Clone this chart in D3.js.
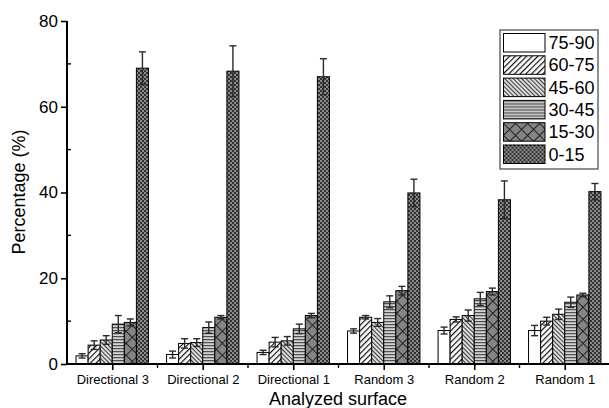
<!DOCTYPE html>
<html>
<head>
<meta charset="utf-8">
<script src="https://cdn.jsdelivr.net/npm/d3@7"></script>
<style>
  html, body { margin: 0; padding: 0; background: #fff; }
  svg { display: block; }
  text { font-family: "Liberation Sans", Arial, sans-serif; fill: #000; }
</style>
</head>
<body>
<svg id="chart" width="609" height="408"></svg>
<script>
// Surfaces analysed (one bar group each)
const categories = ["Directional 3", "Directional 2", "Directional 1", "Random 3", "Random 2", "Random 1"];
// Angle classes (legend order)
const seriesNames = ["75-90", "60-75", "45-60", "30-45", "15-30", "0-15"];

// Mean percentage per angle class, in category order
const v7590 = [1.9, 2.2, 2.7, 7.7, 7.8, 7.8];
const v6075 = [4.4, 4.8, 5.1, 10.9, 10.4, 10.0];
const v4560 = [5.6, 5.0, 5.4, 9.7, 11.3, 11.6];
const v3045 = [9.3, 8.5, 8.2, 14.5, 15.2, 14.4];
const v1530 = [9.7, 10.9, 11.3, 17.1, 16.9, 16.1];
const v0015 = [69.0, 68.3, 67.0, 39.9, 38.3, 40.2];

// Standard deviations, same layout
const e7590 = [0.5, 0.8, 0.5, 0.5, 0.8, 1.2];
const e6075 = [1.0, 1.1, 1.1, 0.4, 0.6, 0.9];
const e4560 = [1.0, 0.9, 1.0, 0.9, 1.3, 1.2];
const e3045 = [2.0, 1.3, 1.1, 1.4, 1.5, 1.2];
const e1530 = [0.8, 0.4, 0.5, 1.0, 0.8, 0.4];
const e0015 = [3.8, 5.9, 4.2, 3.2, 4.4, 1.9];

const yTicks = [0, 20, 40, 60, 80];
const yMinorTicks = [10, 30, 50, 70];

const values = [v7590, v6075, v4560, v3045, v1530, v0015];
const errors = [e7590, e6075, e4560, e3045, e1530, e0015];

const svg = d3.select("#chart");

// ---- fill patterns ----
const defs = svg.append("defs");

function pat(id, w, h, rot) {
  const p = defs.append("pattern")
    .attr("id", id).attr("patternUnits", "userSpaceOnUse")
    .attr("width", w).attr("height", h);
  if (rot) p.attr("patternTransform", `rotate(${rot})`);
  return p;
}

// 75-90: plain white
pat("p0", 4, 4).append("rect").attr("width", 4).attr("height", 4).attr("fill", "#fff");

// 60-75: forward diagonal hatch
{
  const p = pat("p1", 4, 4, 45);
  p.append("rect").attr("width", 4).attr("height", 4).attr("fill", "#fff");
  p.append("line").attr("x1", 0.6).attr("y1", 0).attr("x2", 0.6).attr("y2", 4)
    .attr("stroke", "#111").attr("stroke-width", 1.2);
}
// 45-60: dense back diagonal hatch on light grey
{
  const p = pat("p2", 3, 3, -45);
  p.append("rect").attr("width", 3).attr("height", 3).attr("fill", "#dcdcdc");
  p.append("line").attr("x1", 0.5).attr("y1", 0).attr("x2", 0.5).attr("y2", 3)
    .attr("stroke", "#3a3a3a").attr("stroke-width", 1);
}
// 30-45: horizontal stripes
{
  const p = pat("p3", 4, 3);
  p.append("rect").attr("width", 4).attr("height", 3).attr("fill", "#d4d4d4");
  p.append("line").attr("x1", 0).attr("y1", 0.6).attr("x2", 4).attr("y2", 0.6)
    .attr("stroke", "#505050").attr("stroke-width", 1.3);
}
// 15-30: wide diagonal crosshatch on mid grey
{
  const p = pat("p4", 8.5, 8.5, 45);
  p.append("rect").attr("width", 8.5).attr("height", 8.5).attr("fill", "#858585");
  p.append("line").attr("x1", 0.5).attr("y1", 0).attr("x2", 0.5).attr("y2", 8.5)
    .attr("stroke", "#222").attr("stroke-width", 1);
  p.append("line").attr("x1", 0).attr("y1", 0.5).attr("x2", 8.5).attr("y2", 0.5)
    .attr("stroke", "#222").attr("stroke-width", 1);
}
// 0-15: fine dark checker
{
  const p = pat("p5", 4, 4);
  p.append("rect").attr("width", 4).attr("height", 4).attr("fill", "#333");
  p.append("rect").attr("x", 0).attr("y", 0).attr("width", 2).attr("height", 2).attr("fill", "#8a8a8a");
  p.append("rect").attr("x", 2).attr("y", 2).attr("width", 2).attr("height", 2).attr("fill", "#8a8a8a");
}
const fills = ["url(#p0)", "url(#p1)", "url(#p2)", "url(#p3)", "url(#p4)", "url(#p5)"];

// ---- scales ----
const x = d3.scaleLinear().domain([0.5, 6.5]).range([67, 610]);
const y = d3.scaleLinear().domain([0, 80]).range([364, 21]);
const step = x(2) - x(1);
const inner = d3.scaleBand().domain(seriesNames).range([-step * 0.4, step * 0.4]).padding(0);

// ---- bars ----
const bars = svg.append("g");
seriesNames.forEach((s, si) => {
  bars.selectAll(null).data(categories).enter().append("rect")
    .attr("x", (c, ci) => x(ci + 1) + inner(s))
    .attr("y", (c, ci) => y(values[si][ci]))
    .attr("width", inner.bandwidth())
    .attr("height", (c, ci) => y(0) - y(values[si][ci]))
    .attr("fill", fills[si])
    .attr("stroke", "#000").attr("stroke-width", 1);
});

// ---- error bars ----
const eb = svg.append("g").attr("stroke", "#2a2a2a").attr("stroke-width", 1.4).attr("fill", "none");
seriesNames.forEach((s, si) => {
  categories.forEach((c, ci) => {
    const cx = x(ci + 1) + inner(s) + inner.bandwidth() / 2;
    const v = values[si][ci], e = errors[si][ci];
    const cw = 3.5;
    eb.append("line").attr("x1", cx).attr("x2", cx).attr("y1", y(v - e)).attr("y2", y(v + e));
    eb.append("line").attr("x1", cx - cw).attr("x2", cx + cw).attr("y1", y(v + e)).attr("y2", y(v + e));
    eb.append("line").attr("x1", cx - cw).attr("x2", cx + cw).attr("y1", y(v - e)).attr("y2", y(v - e));
  });
});

// ---- y axis ----
const yAxis = svg.append("g").attr("transform", `translate(${x(0.5)},0)`)
  .call(d3.axisLeft(y).tickValues(yTicks).tickSize(6).tickPadding(3).tickFormat(d3.format("d")));
yAxis.select(".domain").attr("stroke-width", 2).attr("d", `M0,${y(0) + 1}V${y(80)}`);
yAxis.selectAll(".tick line").attr("stroke-width", 1.6);
yAxis.selectAll(".tick text").attr("font-size", 17).style("font-family", "'Liberation Sans', Arial, sans-serif");
yAxis.selectAll(null).data(yMinorTicks).enter().append("line")
  .attr("x1", 0).attr("x2", 4).attr("y1", d => y(d)).attr("y2", d => y(d))
  .attr("stroke", "#000").attr("stroke-width", 1.4);

// ---- x axis ----
const xAxis = svg.append("g").attr("transform", `translate(0,${y(0)})`)
  .call(d3.axisBottom(x).tickValues(d3.range(1, categories.length + 1))
    .tickSize(6).tickPadding(5).tickFormat(d => categories[d - 1]));
xAxis.select(".domain").attr("stroke-width", 2).attr("d", `M${x(0.5) - 1},0H609`);
xAxis.selectAll(".tick line").attr("stroke-width", 1.6);
xAxis.selectAll(".tick text").attr("font-size", 13).style("font-family", "'Liberation Sans', Arial, sans-serif");
xAxis.selectAll(null).data(d3.range(1.5, categories.length + 0.6, 1)).enter().append("line")
  .attr("x1", d => x(d)).attr("x2", d => x(d)).attr("y1", 0).attr("y2", 4)
  .attr("stroke", "#000").attr("stroke-width", 1.4);

// ---- axis titles ----
svg.append("text").attr("x", 338).attr("y", 405).attr("text-anchor", "middle")
  .attr("font-size", 18).text("Analyzed surface");
svg.append("text").attr("transform", "translate(25,192) rotate(-90)").attr("text-anchor", "middle")
  .attr("font-size", 18).text("Percentage (%)");

// ---- legend ----
const lg = svg.append("g").attr("transform", "translate(500,30)");
lg.append("rect").attr("x", 0).attr("y", 0).attr("width", 98).attr("height", 139)
  .attr("fill", "#fff").attr("stroke", "#444").attr("stroke-width", 1.2);
seriesNames.forEach((s, i) => {
  const row = lg.append("g").attr("transform", `translate(3.5,${3.5 + i * 22.3})`);
  row.append("rect").attr("width", 41.5).attr("height", 18.5)
    .attr("fill", fills[i]).attr("stroke", "#000").attr("stroke-width", 1);
  row.append("text").attr("x", 45).attr("y", 15.5).attr("font-size", 18).text(s);
});
</script>
</body>
</html>
